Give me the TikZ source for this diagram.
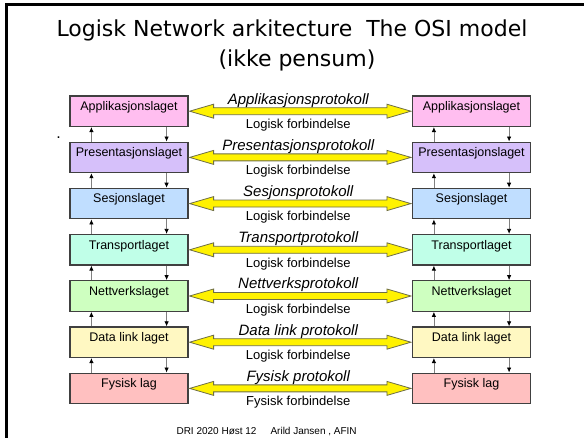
\documentclass[tikz,border=0pt]{standalone}
\usepackage{fontspec}
\setmainfont{Liberation Sans}
\newfontfamily\titlefont{DejaVu Sans}
\usetikzlibrary{arrows.meta,calc}
\definecolor{appcol}{RGB}{255,190,240}
\definecolor{prescol}{RGB}{214,192,250}
\definecolor{sescol}{RGB}{192,222,255}
\definecolor{transcol}{RGB}{192,255,232}
\definecolor{nettcol}{RGB}{206,255,192}
\definecolor{dlcol}{RGB}{255,248,194}
\definecolor{fyscol}{RGB}{255,192,192}
\definecolor{boxline}{RGB}{64,64,64}
\definecolor{arrowline}{RGB}{110,110,70}

\tikzset{
  layer/.style={draw=boxline, line width=1.2pt, minimum width=118pt,
    text height=14.5pt, text depth=16pt, inner sep=0pt,
    font=\fontsize{12.5}{14}\selectfont},
  protarrow/.style={fill=yellow, draw=arrowline, line width=0.8pt},
  updown/.style={draw=gray, line width=0.8pt,
    -{Latex[length=5pt,width=4.5pt,color=black]}},
  prot/.style={font=\itshape\fontsize{15}{17}\selectfont},
  forb/.style={font=\fontsize{13}{15}\selectfont}
}

\begin{document}
\begin{tikzpicture}[x=1pt,y=-1pt]
  \useasboundingbox (0,0) rectangle (584,438);
  % slide frame
  \draw[line width=2.75pt] (6.5,438) -- (6.5,4.5) -- (584,4.5);

  % title
  \node[font=\titlefont\fontsize{22}{30}\selectfont, anchor=base] (title1) at (292,37)
    {Logisk Network arkitecture\ \ The OSI model};
  \node[font=\titlefont\fontsize{22}{30}\selectfont, anchor=base] (title2) at (297,67)
    {(ikke pensum)};
  \node[font=\fontsize{16}{18}\selectfont, anchor=base] (dot) at (58.5,139) {.};

  % the seven layers on both sides
  \foreach \nm/\col/\txt/\prot/\forb [count=\i from 0] in {
    app/appcol/Applikasjonslaget/Applikasjonsprotokoll/Logisk forbindelse,
    pres/prescol/Presentasjonslaget/Presentasjonsprotokoll/Logisk forbindelse,
    ses/sescol/Sesjonslaget/Sesjonsprotokoll/Logisk forbindelse,
    trans/transcol/Transportlaget/Transportprotokoll/Logisk forbindelse,
    nett/nettcol/Nettverkslaget/Nettverksprotokoll/Logisk forbindelse,
    dl/dlcol/Data link laget/Data link protokoll/Logisk forbindelse,
    fys/fyscol/Fysisk lag/Fysisk protokoll/Fysisk forbindelse}
  {
    \node[layer, fill=\col] (\nm-l) at (129, 111.2+46.2*\i) {\txt};
    \node[layer, fill=\col] (\nm-r) at (471.5, 111.2+46.2*\i) {\txt};
    \draw[protarrow] ($(\nm-l.east)+(1,0)$) -- ++(24,-7) -- ++(0,3.5)
      -- ($(\nm-r.west)+(-25,-3.5)$) -- ++(0,-3.5) -- ($(\nm-r.west)+(-1,0)$)
      -- ++(-24,7) -- ++(0,-3.5) -- ($(\nm-l.east)+(25,3.5)$) -- ++(0,3.5) -- cycle;
    \node[prot, anchor=base] (\nm-p) at ($(\nm-l.east)!0.5!(\nm-r.west)+(-2,-7)$) {\prot};
    \node[forb, anchor=base] (\nm-f) at ($(\nm-l.east)!0.5!(\nm-r.west)+(-2,17.3)$) {\forb};
  }

  % up and down between the layers
  \foreach \a/\b in {app/pres,pres/ses,ses/trans,trans/nett,nett/dl,dl/fys}
    \foreach \s in {l,r} {
      \draw[updown] ([xshift=22pt]\b-\s.north west) -- ([xshift=22pt]\a-\s.south west);
      \draw[updown] ([xshift=-22pt]\a-\s.south east) -- ([xshift=-22pt]\b-\s.north east);
    }

  \node[font=\fontsize{10}{12}\selectfont, anchor=base west] (footer) at (173,434)
    {DRI 2020 Høst 12\hspace{14pt}Arild Jansen , AFIN};
\end{tikzpicture}
\end{document}
